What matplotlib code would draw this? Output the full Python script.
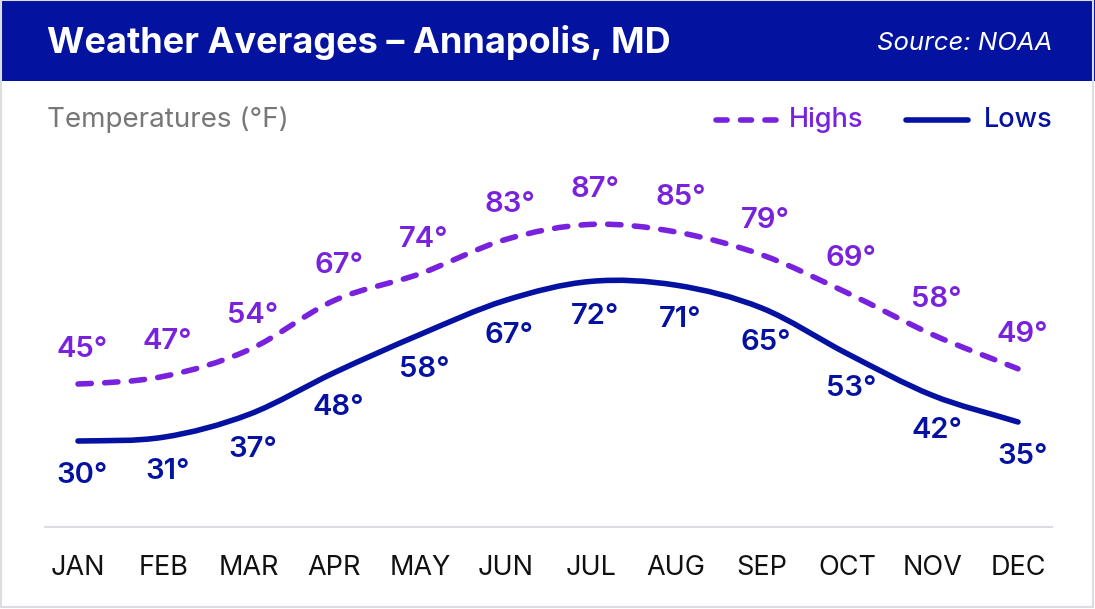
import matplotlib
matplotlib.use("Agg")
import matplotlib.pyplot as plt
from matplotlib.path import Path
from matplotlib.patches import PathPatch, Rectangle
import numpy as np

months = ["JAN", "FEB", "MAR", "APR", "MAY", "JUN", "JUL", "AUG", "SEP", "OCT", "NOV", "DEC"]
highs = [45, 47, 54, 67, 74, 83, 87, 85, 79, 69, 58, 49]
lows = [30, 31, 37, 48, 58, 67, 72, 71, 65, 53, 42, 35]

title = "Weather Averages – Annapolis, MD"
source = "Source: NOAA"
ylabel = "Temperatures (°F)"

PURPLE = "#7822DD"
BLUE = "#0511A0"
HEADER = "#0313A0"
GRID = "#DCDCE2"
FONT = ["Inter", "DejaVu Sans"]
LW = 4.0

W, H = 1095, 609
fig = plt.figure(figsize=(W / 100, H / 100), dpi=100)
fig.patch.set_facecolor("white")

# header band and border
fig.add_artist(Rectangle((0, 1 - 81 / H), 1, 81 / H, transform=fig.transFigure,
                         facecolor=HEADER, edgecolor="none", zorder=0))
fig.add_artist(Rectangle((1 / W, 2 / H), 1 - 3 / W, 1 - 2 / H, transform=fig.transFigure,
                         facecolor="none", edgecolor=GRID, lw=1.5, zorder=0))
fig.text(47 / W, 1 - 42 / H, title, color="white", fontsize=26, fontweight="bold",
         family=FONT, va="center", ha="left")
fig.text(1052 / W, 1 - 44 / H, source, color="white", fontsize=18.5, fontstyle="italic",
         family=FONT, va="center", ha="right")
fig.text(47 / W, 1 - 120 / H, ylabel, color="#777777", fontsize=20,
         family=FONT, va="center", ha="left")

# legend
fig.add_artist(plt.Line2D([715.5 / W, 776 / W], [1 - 120 / H] * 2, transform=fig.transFigure,
                          color=PURPLE, lw=LW, dashes=(2.0, 2.4), dash_capstyle="round",
                          solid_capstyle="round"))
fig.text(789 / W, 1 - 120 / H, "Highs", color=PURPLE, fontsize=19.5, family=FONT,
         fontweight="medium", va="center", ha="left")
fig.add_artist(plt.Line2D([906 / W, 968 / W], [1 - 120 / H] * 2, transform=fig.transFigure,
                          color=BLUE, lw=LW, solid_capstyle="round"))
fig.text(984 / W, 1 - 120 / H, "Lows", color=BLUE, fontsize=19.5, family=FONT,
         fontweight="medium", va="center", ha="left")

# main axes
x0px, dx = 78, (1018 - 78) / 11
y30px, pxdeg = 441, 3.8
left_px, right_px, top_px, bot_px = 45, 1052, 150, 527
ax = fig.add_axes([left_px / W, 1 - bot_px / H, (right_px - left_px) / W, (bot_px - top_px) / H])
ax.set_xlim((left_px - x0px) / dx, (right_px - x0px) / dx)
ax.set_ylim(30 - (bot_px - y30px) / pxdeg, 30 + (y30px - top_px) / pxdeg)
for s in ["top", "left", "right"]:
    ax.spines[s].set_visible(False)
ax.spines["bottom"].set_color(GRID)
ax.spines["bottom"].set_linewidth(1.5)
ax.set_yticks([])
ax.set_xticks([])
ax.patch.set_alpha(0)

xs = np.arange(len(months))


def smooth_path(x, y):
    x = np.asarray(x, float)
    y = np.asarray(y, float)
    h = np.diff(x)
    d = np.diff(y) / h
    m = np.zeros_like(y)
    m[0], m[-1] = d[0] * 0.5, d[-1]
    for i in range(1, len(y) - 1):
        m[i] = (y[i + 1] - y[i - 1]) / (x[i + 1] - x[i - 1])
    verts = [(x[0], y[0])]
    codes = [Path.MOVETO]
    for i in range(len(x) - 1):
        verts += [(x[i] + h[i] / 3, y[i] + m[i] * h[i] / 3),
                  (x[i + 1] - h[i] / 3, y[i + 1] - m[i + 1] * h[i] / 3),
                  (x[i + 1], y[i + 1])]
        codes += [Path.CURVE4] * 3
    return Path(verts, codes)


ax.add_patch(PathPatch(smooth_path(xs, highs), facecolor="none", edgecolor=PURPLE, lw=LW,
                       linestyle=(0, (2.4, 2.4)), capstyle="round", zorder=3))
ax.add_patch(PathPatch(smooth_path(xs, lows), facecolor="none", edgecolor=BLUE, lw=LW,
                       capstyle="round", zorder=3))

for x, v in zip(xs, highs):
    ax.annotate(f"{v}°", (x, v), xytext=(3, 25), textcoords="offset points",
                ha="center", va="center", color=PURPLE, fontsize=21, fontweight="semibold",
                family=FONT)
for x, v in zip(xs, lows):
    ax.annotate(f"{v}°", (x, v), xytext=(3, -25), textcoords="offset points",
                ha="center", va="center", color=BLUE, fontsize=21, fontweight="semibold",
                family=FONT)

for x, m in zip(xs, months):
    ax.text(x, -(568 - bot_px) / (bot_px - top_px), m, transform=ax.get_xaxis_transform(),
            ha="center", va="center", color="#111111", fontsize=19.5, family=FONT)

fig.savefig("out.png", dpi=100, facecolor="white")
